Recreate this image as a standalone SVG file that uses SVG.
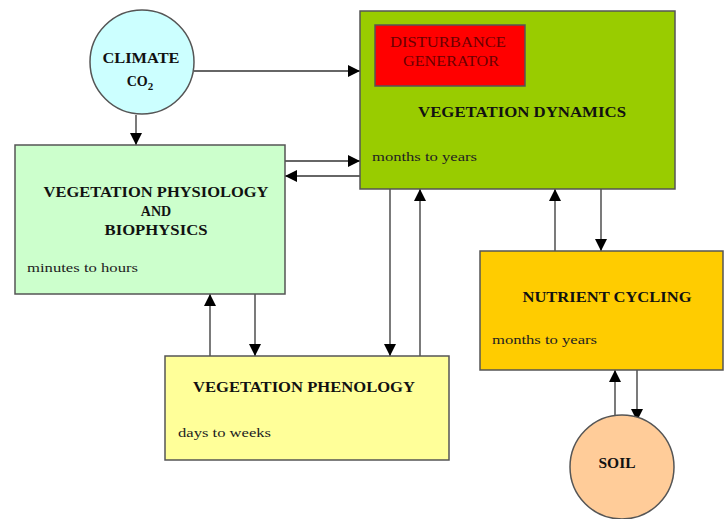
<svg xmlns="http://www.w3.org/2000/svg" width="724" height="519" viewBox="0 0 724 519">
  <style>
    .box { stroke: #555; stroke-width: 1.5; }
    .title { font-family: "Liberation Serif", "Times New Roman", serif; font-weight: bold; font-size: 14px; fill: #111; }
    .sub { font-family: "Liberation Serif", "Times New Roman", serif; font-size: 13px; fill: #222; }
    .dist { font-family: "Liberation Serif", "Times New Roman", serif; font-size: 15px; fill: #6a0000; }
    .conn line { stroke: #333; stroke-width: 1.3; marker-end: url(#arrow); }
  </style>
  <defs>
    <marker id="arrow" viewBox="0 0 10 10" refX="10" refY="5" markerWidth="12" markerHeight="12" markerUnits="userSpaceOnUse" orient="auto">
      <path d="M0,0 L10,5 L0,10 Z" fill="#000"/>
    </marker>
  </defs>
  <rect width="724" height="519" fill="#fff"/>

  <!-- connectors -->
  <g id="connectors" class="conn">
    <line x1="194" y1="71" x2="360" y2="71"/>
    <line x1="136" y1="115" x2="136" y2="145"/>
    <line x1="285" y1="161" x2="360" y2="161"/>
    <line x1="360" y1="176" x2="285" y2="176"/>
    <line x1="210" y1="356" x2="210" y2="294"/>
    <line x1="255" y1="294" x2="255" y2="356"/>
    <line x1="390" y1="189" x2="390" y2="356"/>
    <line x1="420" y1="356" x2="420" y2="189"/>
    <line x1="555" y1="251" x2="555" y2="189"/>
    <line x1="601" y1="189" x2="601" y2="251"/>
    <line x1="615" y1="418" x2="615" y2="370"/>
    <line x1="637" y1="370" x2="637" y2="421"/>
  </g>

  <g id="climate">
    <circle class="box" cx="142" cy="62" r="52" fill="#ccffff"/>
    <text class="title" x="141" y="63" text-anchor="middle" textLength="77" lengthAdjust="spacingAndGlyphs">CLIMATE</text>
    <text class="title" x="140" y="86" text-anchor="middle">CO<tspan font-size="11" dy="4">2</tspan></text>
  </g>

  <g id="vegetation-dynamics">
    <rect class="box" x="360" y="11" width="315" height="178" fill="#99cc00"/>
    <text class="title" x="522" y="117" text-anchor="middle" textLength="208" lengthAdjust="spacingAndGlyphs">VEGETATION DYNAMICS</text>
    <text class="sub" x="372" y="161" textLength="105" lengthAdjust="spacingAndGlyphs">months to years</text>
  </g>

  <g id="disturbance-generator">
    <rect class="box" x="375" y="25" width="150" height="61" fill="#ff0000"/>
    <text class="dist" x="448" y="47" text-anchor="middle" textLength="116" lengthAdjust="spacingAndGlyphs">DISTURBANCE</text>
    <text class="dist" x="451" y="66" text-anchor="middle" textLength="96" lengthAdjust="spacingAndGlyphs">GENERATOR</text>
  </g>

  <g id="vegetation-physiology">
    <rect class="box" x="15" y="145" width="270" height="149" fill="#ccffcc"/>
    <text class="title" x="156" y="197" text-anchor="middle" textLength="225" lengthAdjust="spacingAndGlyphs">VEGETATION PHYSIOLOGY</text>
    <text class="title" x="156" y="216" text-anchor="middle">AND</text>
    <text class="title" x="156" y="235" text-anchor="middle" textLength="103" lengthAdjust="spacingAndGlyphs">BIOPHYSICS</text>
    <text class="sub" x="27" y="272" textLength="111" lengthAdjust="spacingAndGlyphs">minutes to hours</text>
  </g>

  <g id="vegetation-phenology">
    <rect class="box" x="165" y="356" width="284" height="104" fill="#ffff99"/>
    <text class="title" x="304" y="392" text-anchor="middle" textLength="222" lengthAdjust="spacingAndGlyphs">VEGETATION PHENOLOGY</text>
    <text class="sub" x="178" y="437" textLength="93" lengthAdjust="spacingAndGlyphs">days to weeks</text>
  </g>

  <g id="nutrient-cycling">
    <rect class="box" x="480" y="251" width="243" height="119" fill="#ffcc00"/>
    <text class="title" x="607" y="302" text-anchor="middle" textLength="169" lengthAdjust="spacingAndGlyphs">NUTRIENT CYCLING</text>
    <text class="sub" x="492" y="344" textLength="105" lengthAdjust="spacingAndGlyphs">months to years</text>
  </g>

  <g id="soil">
    <circle class="box" cx="622" cy="467" r="52" fill="#ffcc99"/>
    <text class="title" x="617" y="468" text-anchor="middle" textLength="37" lengthAdjust="spacingAndGlyphs">SOIL</text>
  </g>
</svg>
